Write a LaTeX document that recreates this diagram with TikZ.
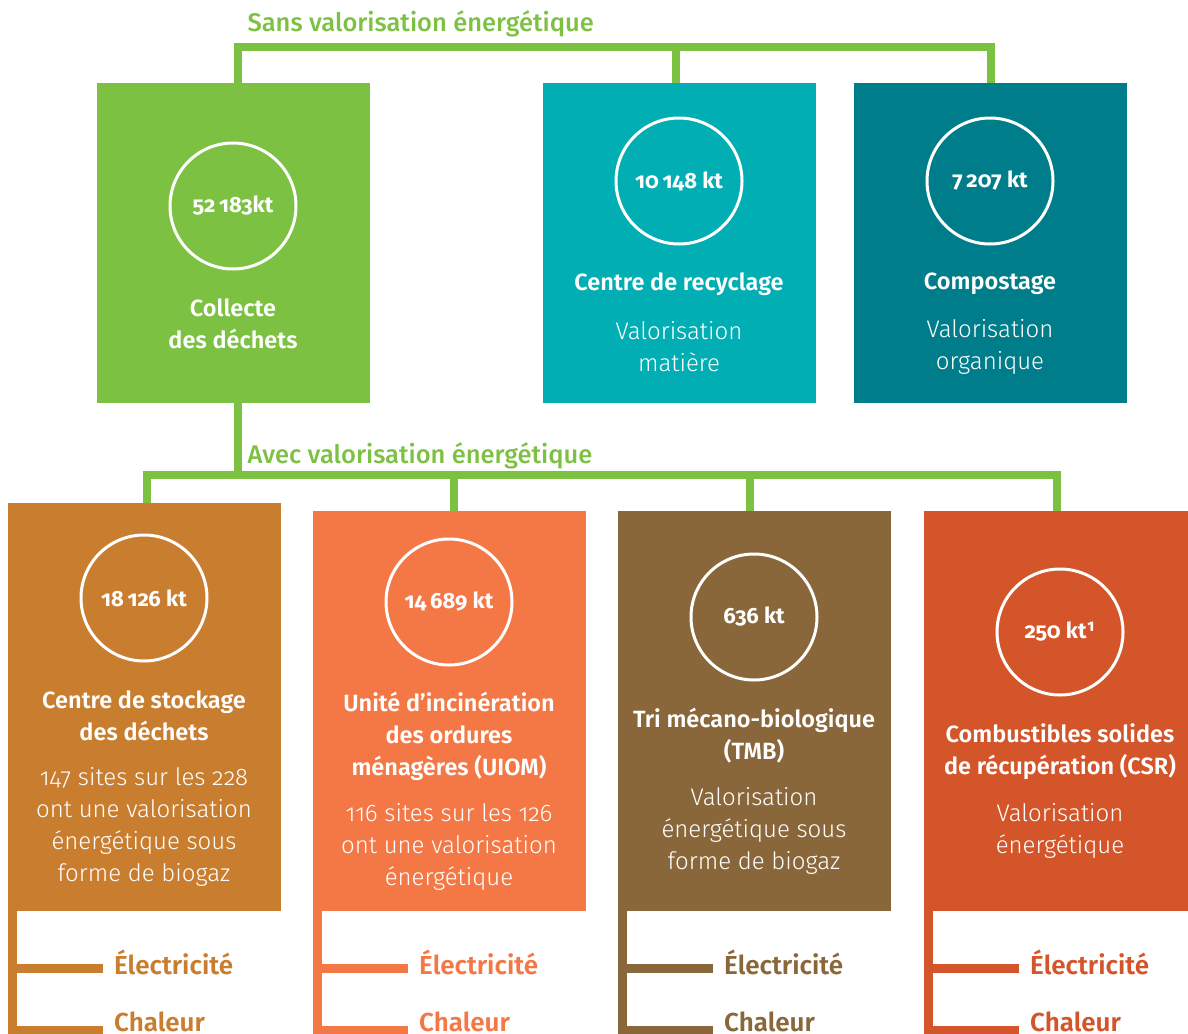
\documentclass[tikz,border=0pt]{standalone}
\usepackage{fontspec}
\setmainfont{Fira Sans}
\newfontfamily\lightf{Fira Sans Light}[Numbers=OldStyle]
\newfontfamily\semif{Fira Sans SemiBold}[Numbers=OldStyle]
\newfontfamily\boldf{Fira Sans}[Numbers=OldStyle,UprightFont=*-Bold]
\newfontfamily\medf{Fira Sans Medium}
\definecolor{cgreen}{HTML}{7DC142}
\definecolor{cteal}{HTML}{00AEB3}
\definecolor{cdteal}{HTML}{007D8A}
\definecolor{cstock}{HTML}{C97D2F}
\definecolor{cuiom}{HTML}{F47846}
\definecolor{ctmb}{HTML}{8A673A}
\definecolor{ccsr}{HTML}{D4552A}
\begin{document}
\begin{tikzpicture}[x=1pt,y=-1pt,
    box/.style={minimum width=273pt,anchor=north west,inner sep=0pt},
    ring/.style={circle,draw=white,line width=3pt,minimum size=126pt,inner sep=0pt,text=white,font=\boldf\fontsize{22}{26}\selectfont},
    title/.style={text=white,align=center,font=\semif\fontsize{23.5}{32}\selectfont},
    body/.style={text=white,align=center,font=\lightf\fontsize{24}{32}\selectfont},
    link/.style={cgreen,line width=8pt},
    head/.style={cgreen,anchor=west,font=\medf\fontsize{25.5}{28}\selectfont},
    outlabel/.style={anchor=base west,inner sep=0pt,font=\semif\fontsize{26}{28}\selectfont}]
        \useasboundingbox (0,0) rectangle (1188,1033);
        %% Blocks
        \node[box,fill=cgreen,minimum height=320pt] (collecte) at (97,83) {};
        \node[box,fill=cteal,minimum height=320pt] (recycle) at (543,83) {};
        \node[box,fill=cdteal,minimum height=320pt] (compost) at (854,83) {};
        \node[box,fill=cstock,minimum height=408pt] (stock) at (8,503) {};
        \node[box,fill=cuiom,minimum height=400pt] (uiom) at (313,511) {};
        \node[box,fill=ctmb,minimum height=400pt] (tmb) at (618,511) {};
        \node[box,fill=ccsr,minimum height=400pt] (csr) at (924,511) {};
        %% amounts
        \node[ring] (q-collecte) at (233,206) {52\,183kt};
        \node[ring] (q-recycle) at (679,181) {10\,148 kt};
        \node[ring] (q-compost) at (990,181) {7\,207 kt};
        \node[ring] (q-stock) at (144,598) {18\,126 kt};
        \node[ring] (q-uiom) at (449,602) {14\,689 kt};
        \node[ring] (q-tmb) at (754,617) {636 kt};
        \node[ring] (q-csr) at (1060,632) {250 kt¹};
        %% labels
        \node[title] (t-collecte) at (233,324) {Collecte\\des déchets};
        \node[title] (t-recycle) at (679,284) {Centre de recyclage};
        \node[body] (b-recycle) at (679,347) {Valorisation\\matière};
        \node[title] (t-compost) at (990,284) {Compostage};
        \node[body] (b-compost) at (990,347) {Valorisation\\organique};
        \node[title] (t-stock) at (144,716) {Centre de stockage\\des déchets};
        \node[body] (b-stock) at (144,827) {147 sites sur les 228\\ont une valorisation\\énergétique sous\\forme de biogaz};
        \node[title] (t-uiom) at (449,736) {Unité d’incinération\\des ordures\\ménagères (UIOM)};
        \node[body] (b-uiom) at (449,847) {116 sites sur les 126\\ont une valorisation\\énergétique};
        \node[title] (t-tmb) at (754,736) {Tri mécano-biologique\\(TMB)};
        \node[body] (b-tmb) at (754,831) {Valorisation\\énergétique sous\\forme de biogaz};
        \node[title] (t-csr) at (1060,752) {Combustibles solides\\de récupération (CSR)};
        \node[body] (b-csr) at (1060,831) {Valorisation\\énergétique};
        \node[head] (sans) at (244,24) {Sans valorisation énergétique};
        \node[head] (avec) at (244,456) {Avec valorisation énergétique};
        %% tree
        \coordinate (topbar) at (0,47);
        \coordinate (midbar) at (0,475);
        \coordinate (csrtop) at ([xshift=-4pt]csr.north);
        \draw[link] ([xshift=4pt]collecte.north) |- (compost.north |- topbar) -- (compost.north);
        \draw[link] ([xshift=-4pt]recycle.north) -- ++(0,-36);
        \draw[link] ([xshift=4pt]collecte.south) -- ++(0,72);
        \draw[link] ([xshift=2pt]stock.north) |- (csrtop |- midbar) -- (csrtop);
        \draw[link] ([xshift=4pt]uiom.north) -- ++(0,-36);
        \draw[link] ([xshift=-5pt]tmb.north) -- ++(0,-36);
        %% outputs
        \foreach \b/\c in {stock/cstock,uiom/cuiom,tmb/ctmb,csr/ccsr}{
            \node[outlabel,text=\c] (\b-elec) at ([xshift=106pt,yshift=-63pt]\b.south west) {Électricité};
            \node[outlabel,text=\c] (\b-heat) at ([xshift=106pt,yshift=-120pt]\b.south west) {Chaleur};
            \draw[line width=9pt,\c] ([xshift=4.5pt]\b.south west) |- ([xshift=-11pt,yshift=6pt]\b-elec.base west);
            \draw[line width=9pt,\c] ([xshift=4.5pt]\b.south west) |- ([xshift=-11pt,yshift=1pt]\b-heat.base west);
        }
    \end{tikzpicture}
\end{document}
